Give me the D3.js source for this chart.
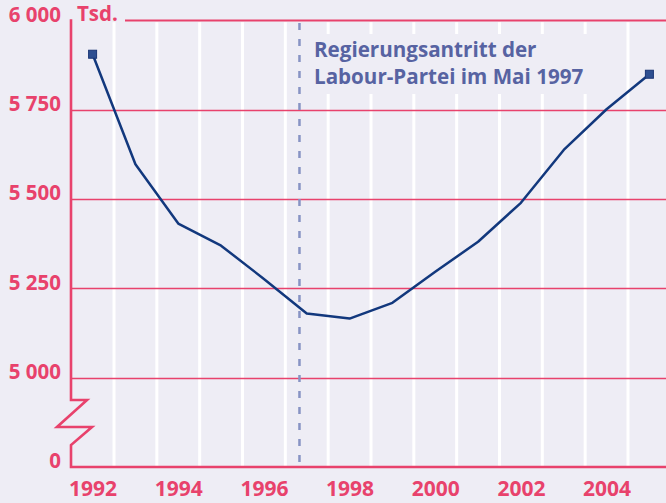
<!DOCTYPE html>
<html>
<head>
<meta charset="utf-8">
<script src="https://cdn.jsdelivr.net/npm/d3@7"></script>
<style>
  html, body { margin: 0; padding: 0; background: #eeedf5; }
  svg { display: block; }
  text { font-family: "Open Sans", sans-serif; font-weight: 700; }
</style>
</head>
<body>
<div id="chart"></div>
<script>
// Data
const years = [1992, 1993, 1994, 1995, 1996, 1997, 1998, 1999, 2000, 2001, 2002, 2003, 2004, 2005];
const values = [5905, 5597, 5431, 5369, 5276, 5179, 5165, 5209, 5296, 5380, 5489, 5637, 5751, 5849];
const yTicks = [5000, 5250, 5500, 5750, 6000];
const yTickLabels = ["5 000", "5 250", "5 500", "5 750", "6 000"];
const xTicks = [1992, 1994, 1996, 1998, 2000, 2002, 2004];
const unitLabel = "Tsd.";
const eventYear = 1996.83;
const eventLines = ["Regierungsantritt der", "Labour-Partei im Mai 1997"];

const W = 666, H = 503;
const pink = "#e8426c", navy = "#12387d";

const svg = d3.select("#chart").append("svg")
    .attr("width", W)
    .attr("height", H);

svg.append("rect").attr("width", W).attr("height", H).attr("fill", "#eeedf5");

// Scales
const x = d3.scaleLinear().domain([1992, 2005]).range([92.6, 649.4]);
const y = d3.scaleLinear().domain([5000, 6000]).range([377.5, 20.3]);
const axisX = 71, zeroY = 467;
const gy = d => Math.round(y(d)) + 0.5;

// White year bands
const bands = d3.range(1992.5, 2005, 1);
svg.selectAll(".band").data(bands).enter().append("line")
    .attr("x1", d => x(d)).attr("x2", d => x(d))
    .attr("y1", y(6000) + 2).attr("y2", zeroY)
    .attr("stroke", "#ffffff").attr("stroke-width", 3);

// Horizontal grid lines
svg.selectAll(".grid").data(yTicks).enter().append("line")
    .attr("x1", d => d === 6000 ? 125 : axisX).attr("x2", W)
    .attr("y1", d => gy(d)).attr("y2", d => gy(d))
    .attr("stroke", pink).attr("stroke-width", d => d === 6000 ? 2 : 1.3);

// Annotation box + text
svg.append("rect")
    .attr("x", 308).attr("y", 34).attr("width", 292).attr("height", 60)
    .attr("fill", "#eeedf5");

svg.append("line")
    .attr("x1", x(eventYear)).attr("x2", x(eventYear))
    .attr("y1", 23).attr("y2", 464)
    .attr("stroke", "#8793c4").attr("stroke-width", 2.5)
    .attr("stroke-dasharray", "7,9");

svg.selectAll(".note").data(eventLines).enter().append("text")
    .attr("x", 314).attr("y", (d, i) => 57 + i * 27)
    .attr("fill", "#5763a2").style("font-size", "20.6px")
    .text(d => d);

// Data line
const line = d3.line().x((d, i) => x(years[i])).y(d => y(d));
svg.append("path").datum(values)
    .attr("d", line)
    .attr("fill", "none").attr("stroke", navy).attr("stroke-width", 2.5)
    .attr("stroke-linejoin", "round");

// End markers
const ends = [0, values.length - 1];
svg.selectAll(".marker").data(ends).enter().append("rect")
    .attr("x", i => x(years[i]) - 4).attr("y", i => y(values[i]) - 4)
    .attr("width", 8).attr("height", 8)
    .attr("fill", "#2e4f91").attr("stroke", "#1b3676").attr("stroke-width", 1);

// Axis with break
const brk = d3.path();
brk.moveTo(axisX, y(6000) - 1);
brk.lineTo(axisX, 400);
brk.lineTo(87, 400);
brk.lineTo(57, 427);
brk.lineTo(92, 427);
brk.lineTo(axisX, 445);
brk.lineTo(axisX, zeroY);
brk.lineTo(W, zeroY);
svg.append("path").attr("d", brk.toString())
    .attr("fill", "none").attr("stroke", pink).attr("stroke-width", 2.6)
    .attr("stroke-linejoin", "miter");

// Y labels
const yAxis = svg.append("g")
    .attr("transform", `translate(61,0)`)
    .call(d3.axisLeft(y).tickValues(yTicks).tickSize(0)
        .tickFormat((d, i) => yTickLabels[i]));
yAxis.select(".domain").remove();
yAxis.selectAll("text")
    .attr("x", 0).attr("dy", null).attr("y", 1)
    .attr("fill", pink).style("font-size", "20.5px")
    .style("font-family", "'Open Sans', sans-serif").style("font-weight", 700);

svg.append("text")
    .attr("x", 61).attr("y", zeroY + 1)
    .attr("text-anchor", "end").attr("fill", pink)
    .style("font-size", "20.5px").text("0");

svg.append("text")
    .attr("x", 77).attr("y", 21)
    .attr("fill", pink).style("font-size", "20.5px").text(unitLabel);

// X labels
const xAxis = svg.append("g")
    .attr("transform", `translate(0,${zeroY})`)
    .call(d3.axisBottom(x).tickValues(xTicks).tickSize(0).tickFormat(d3.format("d")));
xAxis.select(".domain").remove();
xAxis.selectAll("text")
    .attr("dy", null).attr("y", 29)
    .attr("fill", pink).style("font-size", "21px")
    .style("font-family", "'Open Sans', sans-serif").style("font-weight", 700);
</script>
</body>
</html>
